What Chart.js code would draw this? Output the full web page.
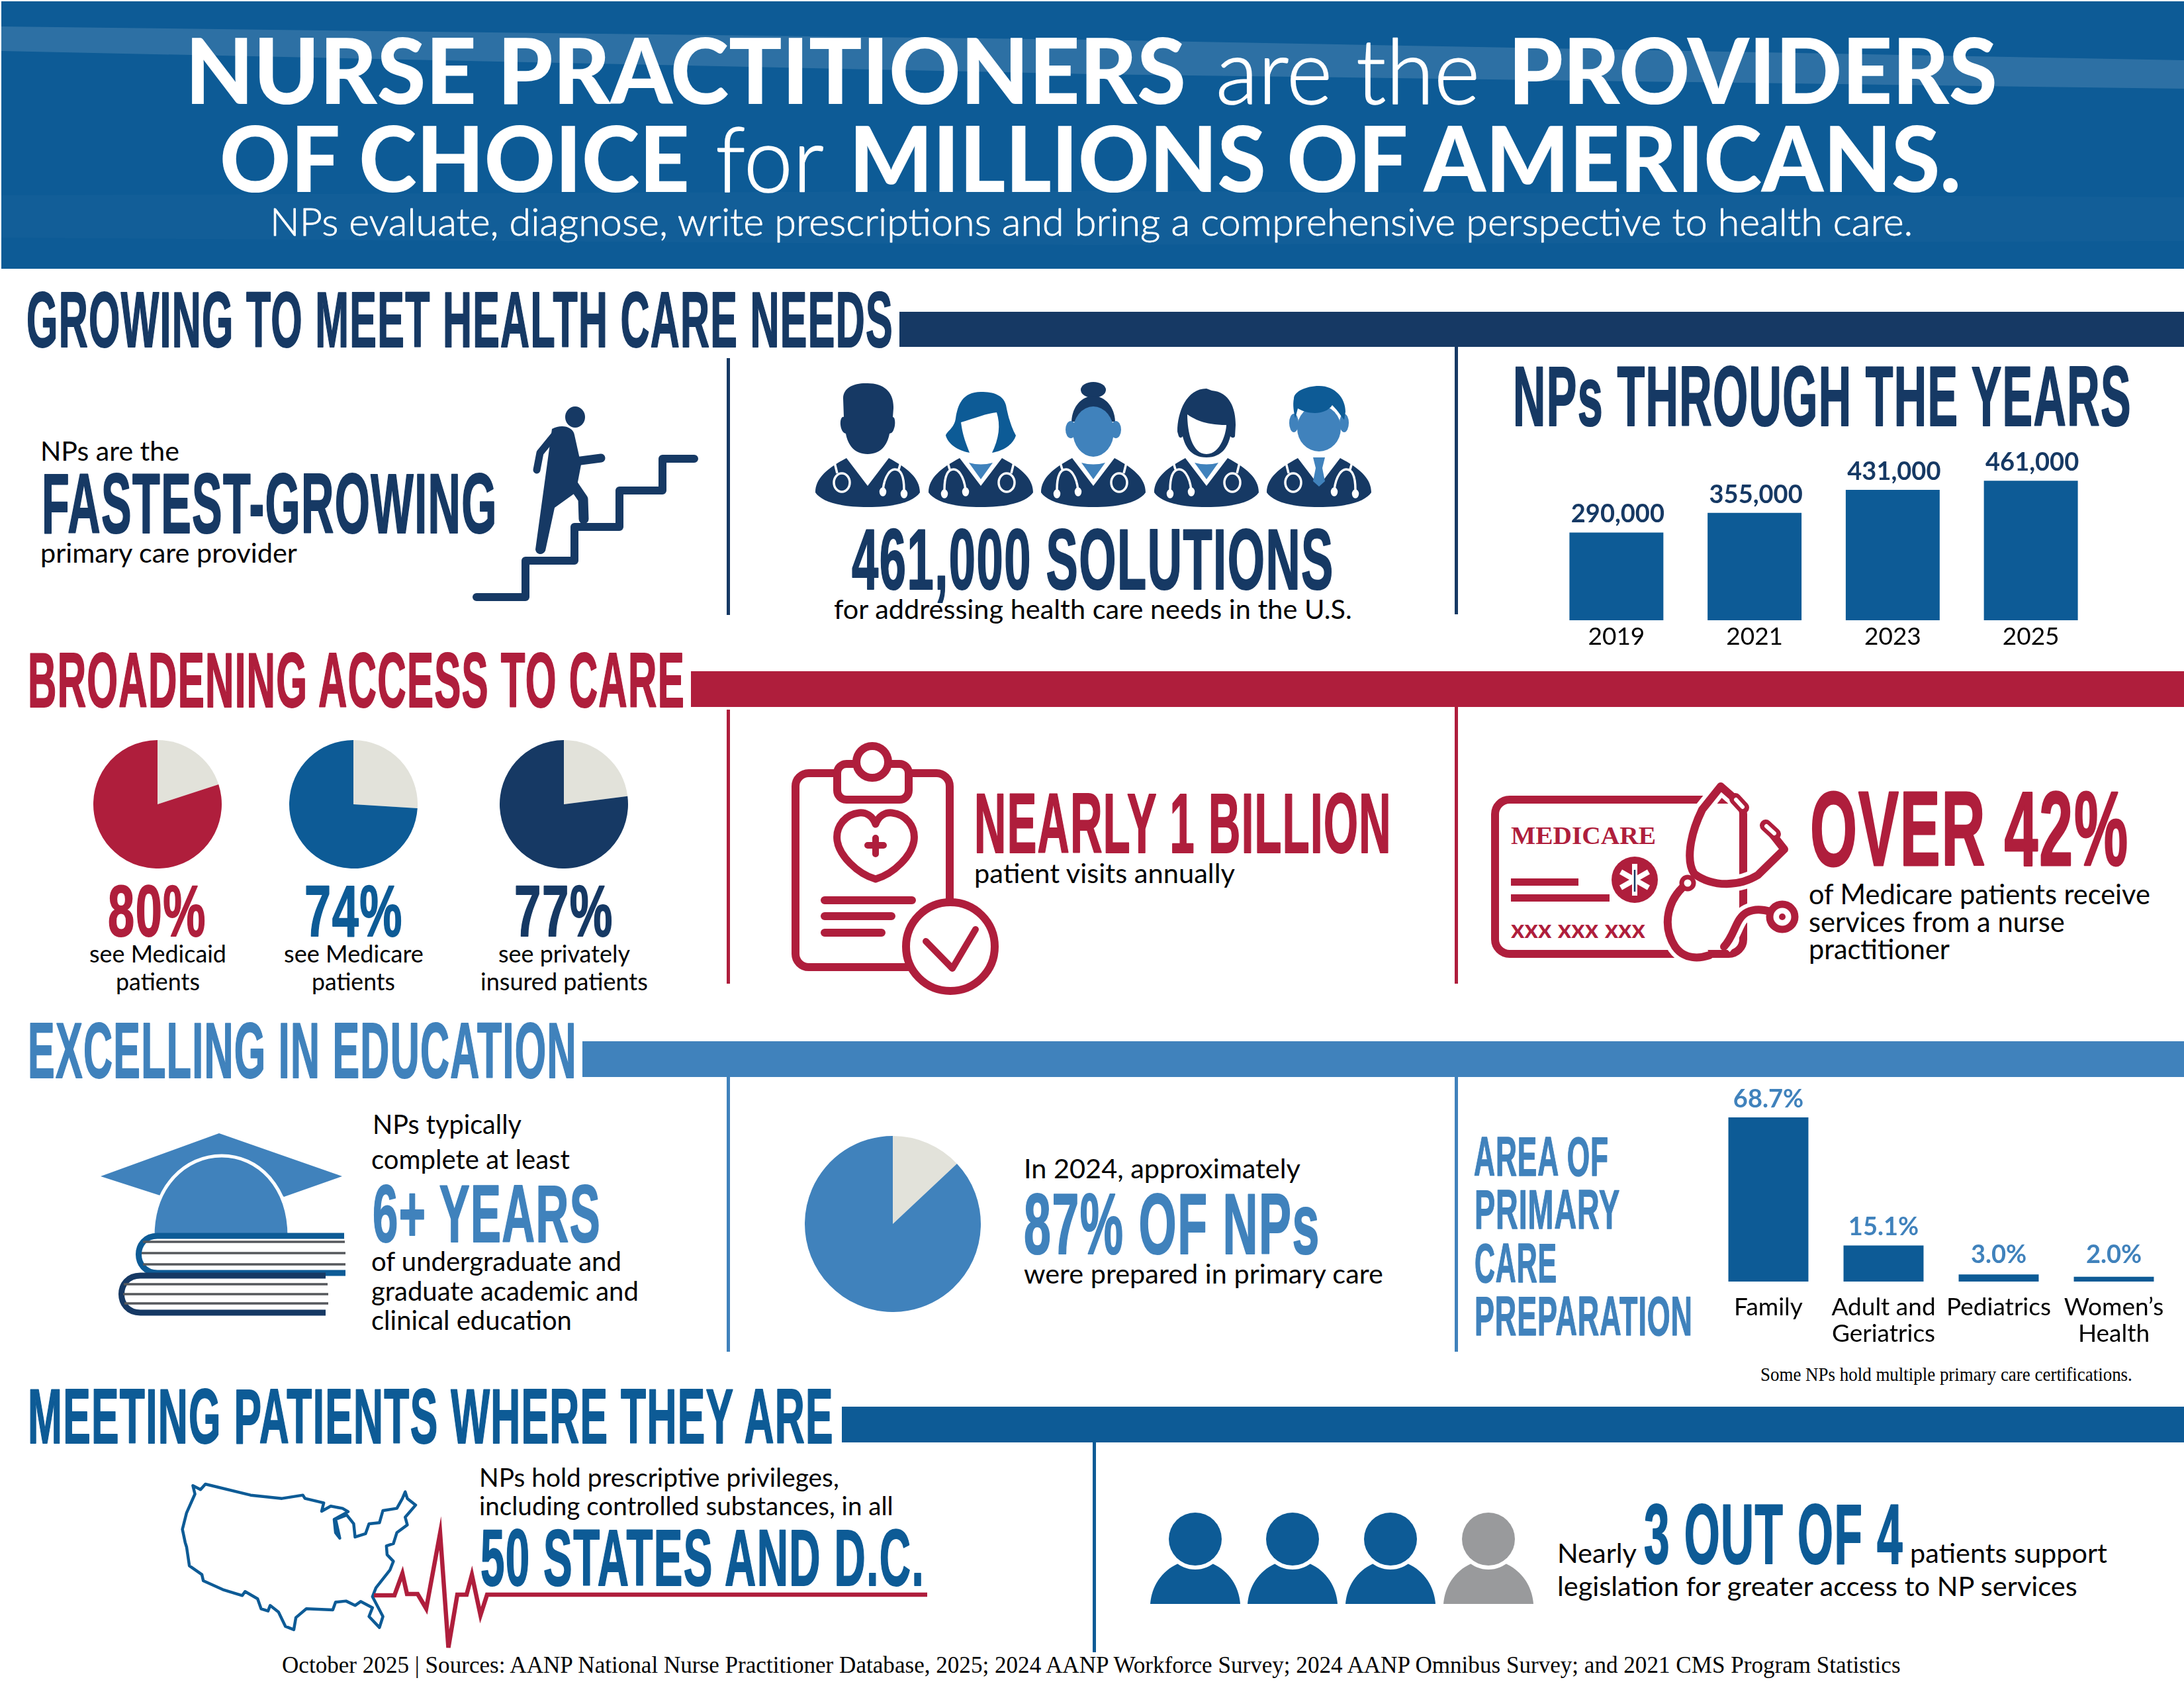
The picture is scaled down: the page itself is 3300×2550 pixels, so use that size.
<!DOCTYPE html>
<html><head><meta charset="utf-8">
<script src="https://cdn.jsdelivr.net/npm/chart.js@4"></script>
<style>
html,body{margin:0;padding:0;background:#fff;width:3300px;height:2550px;overflow:hidden}
#page{position:absolute;left:0;top:2px;width:3300px;height:2548px;overflow:hidden}
svg{position:absolute;left:0;top:0}
.ch{position:absolute}
</style></head><body><div id="page"><svg id="art" width="3300" height="2550" viewBox="0 0 3300 2550"></svg></div>
<script>
const yearLabels=['2019','2021','2023','2025'];
const npCounts=[290000,355000,431000,461000];
const specialtyLabels=[['Family'],['Adult and','Geriatrics'],['Pediatrics'],['Women’s','Health']];
const specialtyValues=[68.7,15.1,3.0,2.0];
const medicaidShare=[20,80];
const medicareShare=[26,74];
const privateShare=[23,77];
const primaryCareShare=[13,87];

const RED='#AF1E3C',BLUE='#0D5B96',NAVY='#163964',STEEL='#4082BC',PALE='#E2E2DA',GREY='#999A9C';
const BODY='Lato, "Noto Sans", sans-serif',NARROW='"Liberation Sans Narrow", "Liberation Sans", sans-serif',SERIF='"Liberation Serif", serif';

Chart.defaults.animation=false;
Chart.defaults.responsive=false;
Chart.defaults.devicePixelRatio=1;
Chart.defaults.plugins.legend.display=false;
Chart.defaults.plugins.tooltip.enabled=false;

/* ---------- text helpers: each string is fitted to its measured span ---------- */
let out='';
const esc=s=>s.replace(/&/g,'&amp;').replace(/</g,'&lt;');
function T(s,x0,x1,y,size,opt={}){
  const {fam=BODY,w=400,fill='#000',thick=0,ls=0}=opt;
  out+=`<text class="fit" data-x0="${x0}" data-x1="${x1}" data-y="${y}" font-family='${fam}' font-size="${size}" font-weight="${w}" fill="${fill}"`+(ls?` letter-spacing="${ls}"`:'')+(thick?` stroke="${fill}" stroke-width="${thick}" stroke-linejoin="round"`:'')+`>${esc(s)}</text>`;
}
function H(s,x0,x1,y,cap,fill){T(s,x0,x1,y,(cap/0.69).toFixed(1),{fam:NARROW,w:700,fill,thick:Math.max(1.5,cap/40),ls:(cap*0.03).toFixed(1)});}
const B=(s,x0,x1,y,size=41)=>T(s,x0,x1,y,size);
const R=(x,y,w,h,f)=>{out+=`<rect x="${x}" y="${y}" width="${w}" height="${h}" fill="${f}"/>`;};

/* ---------- banner ---------- */
R(2,0,3298,404,BLUE);
out+=`<path d="M2,38L1650,58L3300,89V132L1650,110L2,75Z" fill="#fff" opacity=".135"/>`;
out+=`<path d="M2,293L1650,286L3300,296V362L1650,368L2,357Z" fill="#fff" opacity=".025"/>`;
const W={fill:'#fff'};
T('NURSE PRACTITIONERS',280,1792,155,137,{w:900,...W});
T('are the',1837,2236,155,137,{w:300,thick:1.5,...W});
T('PROVIDERS',2279,3018,155,137,{w:900,...W});
T('OF CHOICE',332,1042,288,137,{w:900,...W});
T('for',1081,1245,288,137,{w:300,thick:1.5,...W});
T('MILLIONS OF AMERICANS.',1283,2963,288,137,{w:900,...W});
T('NPs evaluate, diagnose, write prescriptions and bring a comprehensive perspective to health care.',408,2891,354,57,{w:300,thick:.8,...W});

/* ---------- section rules ---------- */
H('GROWING TO MEET HEALTH CARE NEEDS',40,1350,522,82,NAVY);R(1359,469,1941,53,NAVY);
H('BROADENING ACCESS TO CARE',42,1035,1066,81,RED);R(1044,1012,2256,54,RED);
H('EXCELLING IN EDUCATION',42,872,1626,82,STEEL);R(880,1571,2420,54,STEEL);
H('MEETING PATIENTS WHERE THEY ARE',42,1260,2178,80,BLUE);R(1272,2123,2028,54,BLUE);
R(1098,539,5,388,NAVY);R(2198,522,5,404,NAVY);
R(1098,1070,5,414,RED);R(2198,1066,5,418,RED);
R(1098,1625,5,415,STEEL);R(2198,1625,5,415,STEEL);
R(1651,2177,5,317,BLUE);

/* ---------- section 1 ---------- */
B('NPs are the',61,271,694,40);
H('FASTEST-GROWING',63,752,803,88,NAVY);
B('primary care provider',61,449,848,40);
out+=`<g fill="none" stroke="${NAVY}" stroke-linecap="round" stroke-linejoin="round">
<path stroke-width="12" d="M720,900H794V845H868V794H936V739H1001V691H1049"/>
<path stroke-width="11" d="M838,655L816,682L811,708"/>
<path stroke-width="13" d="M870,695L908,690"/>
<path stroke-width="15" d="M866,730L881,752L882,782"/></g>
<ellipse cx="869" cy="628" rx="15" ry="16" fill="${NAVY}"/>
<path fill="${NAVY}" d="M834,646C848,638 866,642 868,655L878,700L870,742L838,765L824,830C820,838 810,836 809,828L828,690Z"/>`;
function doctor(cx,flip,inner,head){
  let s=`<g transform="translate(${cx},0)"><path fill="${NAVY}" d="M-32,690C-60,705 -79,720 -79,742C-70,755 -45,764 0,764C45,764 70,755 79,742C79,720 60,705 32,690L0,732Z"/>${inner}`;
  s+=`<g transform="scale(${flip},1)" fill="none" stroke="#fff" stroke-width="3.5"><path d="M-50,697L-46,713"/><ellipse cx="-39" cy="727" rx="12" ry="14"/><path d="M50,697L47,707M23,738C26,715 35,707 41,707C52,707 55,720 55,738"/><ellipse cx="23" cy="741" rx="3.5" ry="5" fill="#fff"/><ellipse cx="55" cy="744" rx="3.5" ry="5" fill="#fff"/></g>`;
  return s+head+'</g>';
}
const shirt=`<path fill="${STEEL}" d="M-18,697Q0,702 18,697L0,722Z"/>`;
const tie=`<path fill="${STEEL}" d="M-9,689H9L5,705L9,725L0,733L-9,725L-5,705Z"/>`;
out+=doctor(1311,1,'',`<path fill="${NAVY}" d="M-37,600C-37,582 -18,576 0,577C24,577 40,590 39,615L38,628C42,628 42,640 40,645C38,652 36,652 33,653C30,670 20,684 0,684C-20,684 -30,670 -33,653C-37,652 -40,648 -41,640C-42,630 -38,627 -36,628Z"/>`);
out+=doctor(1482,-1,shirt,`<path fill="${BLUE}" d="M0,590C-28,590 -35,610 -38,630C-40,645 -52,650 -53,656C-48,672 -30,680 -16,682L16,682C30,680 48,672 53,656C44,640 40,620 38,610C34,595 20,590 0,590Z"/><path fill="#fff" d="M-30,636C-10,630 10,622 24,621C30,640 28,660 16,684L-16,684C-26,660 -28,650 -30,636Z"/>`);
out+=doctor(1652,-1,shirt,`<ellipse cy="587" rx="19" ry="12" fill="${NAVY}"/><path fill="${NAVY}" d="M-33,635C-32,612 -18,597 0,596C18,597 32,612 33,635Z"/><g fill="${STEEL}"><ellipse cx="-34" cy="647" rx="8" ry="13"/><ellipse cx="34" cy="647" rx="8" ry="13"/><ellipse cy="650" rx="31" ry="38"/></g>`);
out+=doctor(1823,-1,shirt,`<path fill="${NAVY}" d="M0,585C-30,585 -44,620 -44,650L-42,657C-40,660 -38,660 -36,657C-33,670 -25,689 0,689C25,689 33,670 36,657C38,660 42,660 43,657L44,640C44,615 35,590 8,588Z"/><path fill="#fff" d="M-29,624C-20,630 -5,640 30,640C30,650 22,684 0,684C-22,684 -29,650 -29,624Z"/>`);
out+=doctor(1993,1,tie,`<g fill="${STEEL}"><ellipse cx="-38" cy="637" rx="7" ry="14"/><ellipse cx="38" cy="637" rx="7" ry="14"/><ellipse cy="645" rx="33" ry="35"/></g><path fill="${BLUE}" d="M-38,600C-38,590 -20,581 0,581C25,581 40,600 40,620L38,632C34,628 30,620 20,610C10,625 -15,625 -32,615L-36,630C-38,620 -40,610 -38,600Z"/>`);
H('461,000 SOLUTIONS',1287,2016,888,89,NAVY);
B('for addressing health care needs in the U.S.',1260,2043,933);
H('NPs THROUGH THE YEARS',2286,3221,641,88,NAVY);

/* ---------- section 2 ---------- */
H('80%',163,312,1412,75,RED);H('74%',460,609,1412,75,BLUE);H('77%',777,927,1412,75,NAVY);
B('see Medicaid',135,342,1452,37);B('patients',175,302,1494,37);
B('see Medicare',429,640,1452,37);B('patients',471,597,1494,37);
B('see privately',753,952,1452,37);B('insured patients',726,979,1494,37);
out+=`<g fill="none" stroke="${RED}" stroke-linecap="round"><rect x="1202" y="1166" width="233" height="293" rx="20" stroke-width="12" fill="#fff"/>
<rect x="1265" y="1152" width="108" height="54" rx="14" stroke-width="12" fill="#fff"/><circle cx="1318" cy="1149" r="24" stroke-width="12" fill="#fff"/>
<path stroke-width="11" stroke-linejoin="round" d="M1323,1243C1318,1230 1308,1225 1298,1226C1278,1228 1262,1246 1265,1268C1268,1290 1295,1318 1323,1326C1351,1318 1378,1290 1381,1268C1384,1246 1368,1228 1348,1226C1338,1225 1328,1230 1323,1243Z"/>
<path stroke-width="10" d="M1323,1264V1288M1311,1275H1335"/><path stroke-width="12" d="M1246,1358H1378M1246,1382H1347M1246,1407H1332"/>
<circle cx="1436" cy="1428" r="67" stroke-width="12" fill="#fff"/><path stroke-width="10" stroke-linejoin="round" d="M1399,1420L1439,1461L1474,1402"/></g>`;
H('NEARLY 1 BILLION',1472,2103,1286,88,RED);
B('patient visits annually',1472,1866,1332);
out+=`<rect x="2259" y="1206" width="375" height="233" rx="22" fill="none" stroke="${RED}" stroke-width="12"/>`;
T('MEDICARE',2283,2502,1273,38,{fam:SERIF,w:700,fill:RED});
R(2283,1325,102,11,RED);R(2283,1349,149,11,RED);
out+=`<circle cx="2470" cy="1327" r="35" fill="${RED}"/><g stroke="#fff" stroke-width="8"><path d="M2470,1303V1351M2449,1315L2491,1339M2449,1339L2491,1315"/></g><path d="M2470,1312V1345" stroke="${NAVY}" stroke-width="2.5"/>`;
T('xxx xxx xxx',2283,2486,1415,38,{w:700,fill:RED});
const steth=`M2600,1186L2572,1221C2552,1262 2548,1300 2560,1318C2590,1340 2630,1336 2656,1320L2696,1281L2674,1253M2600,1186L2624,1207M2550,1332C2520,1355 2510,1395 2531,1428C2545,1448 2568,1446 2583,1441M2605,1428C2622,1410 2622,1385 2640,1376C2652,1370 2665,1372 2675,1375`;
out+=`<path d="${steth}" fill="none" stroke="#fff" stroke-width="24"/><path d="${steth}" fill="none" stroke="${RED}" stroke-width="12" stroke-linecap="round" stroke-linejoin="round"/><path d="M2622,1205L2634,1218M2668,1245L2682,1258" stroke="${RED}" stroke-width="18" stroke-linecap="round"/><path d="M2623,1206L2633,1217M2669,1246L2681,1257" stroke="#fff" stroke-width="6" stroke-linecap="round"/><circle cx="2693" cy="1383" r="19" fill="#fff" stroke="${RED}" stroke-width="11"/><circle cx="2693" cy="1383" r="5" fill="${RED}"/><circle cx="2550" cy="1332" r="9" fill="#fff" stroke="${RED}" stroke-width="7"/>`;
H('OVER 42%',2735,3217,1305,110,RED);
B('of Medicare patients receive',2733,3249,1364,42);
B('services from a nurse',2733,3120,1406,42);
B('practitioner',2733,2946,1447,42);

/* ---------- section 3 ---------- */
out+=`<path fill="${STEEL}" d="M152,1775L331,1710L517,1775L429,1806L400,1780H270L242,1804Z"/>
<path fill="${STEEL}" stroke="#fff" stroke-width="5" d="M231,1866C231,1790 280,1744 335,1744C390,1744 437,1790 437,1866Z"/>
<g fill="none"><path stroke="${BLUE}" stroke-width="9" d="M520,1865H238C200,1865 200,1921 238,1921H522"/><path stroke="${NAVY}" stroke-width="9" d="M492,1925H212C174,1925 174,1981 212,1981H492"/>
<path stroke="#55585c" stroke-width="3.5" d="M216,1874H521M214,1891H522M216,1908H522M187,1938H495M186,1953H496M188,1967H496"/></g>`;
B('NPs typically',563,788,1711);B('complete at least',561,861,1764);
H('6+ YEARS',563,908,1874,85,STEEL);
B('of undergraduate and',561,939,1918);B('graduate academic and',561,965,1963);B('clinical education',561,864,2007);
B('In 2024, approximately',1547,1965,1778);
H('87% OF NPs',1547,1995,1892,89,STEEL);
B('were prepared in primary care',1547,2090,1937);
H('AREA OF',2227,2431,1774,58,STEEL);H('PRIMARY',2228,2448,1854,58,STEEL);H('CARE',2228,2353,1935,58,STEEL);H('PREPARATION',2228,2558,2015,58,STEEL);
T('Some NPs hold multiple primary care certifications.',2660,3222,2084,29,{fam:SERIF});

/* ---------- section 4 ---------- */
const usa='277,487 280,525 268,610 262,685 266,745 268,765 272,850 290,890 292,918 320,958 348,985 352,967 370,1000 375,1045 385,1055 388,1030 400,1060 410,1125 422,1140 425,1085 440,1045 478,1050 482,1015 497,1010 510,1030 518,1012 535,1040 530,1080 545,1130 550,1080 535,990 540,950 560,870 565,830 556,800 555,760 565,750 570,700 585,665 582,630 597,575 585,545 582,515 578,545 570,590 550,600 545,655 530,660 525,705 510,720 508,660 498,620 482,640 488,725 482,700 480,640 500,605 492,590 475,580 462,603 465,565 445,550 438,545 435,530 405,545 360,530 295,480 288,505';
out+=`<g transform="translate(0,2080) scale(1.052,.3333)"><polygon points="${usa}" fill="none" stroke="${BLUE}" stroke-width="4.5" stroke-linejoin="round" vector-effect="non-scaling-stroke"/></g>`;
out+=`<polyline points="565,2408 596,2408 608,2375 615,2406 631,2406 644,2428 665,2314 677.5,2487 691,2407 705,2407 713,2377 726,2438 736,2407 1401,2407" fill="none" stroke="${RED}" stroke-width="6.5" stroke-linejoin="miter" stroke-miterlimit="8"/>`;
T('NPs hold prescriptive privileges,',724,1268,2244,38);
T('including controlled substances, in all',724,1350,2287,38);
H('50 STATES AND D.C.',726,1397,2393,83,BLUE);
[[1806,BLUE],[1953,BLUE],[2101,BLUE],[2249,GREY]].forEach(([x,c])=>{
  out+=`<path fill="${c}" d="M${x-68},2421C${x-66},2395 ${x-52},2372 ${x-26},2360H${x+26}C${x+52},2372 ${x+66},2395 ${x+68},2421Z"/><circle cx="${x}" cy="2323" r="46" fill="#fff"/><circle cx="${x}" cy="2323" r="40" fill="${c}"/>`;
});
B('Nearly',2353,2473,2359);
H('3 OUT OF 4',2484,2876,2360,88,BLUE);
B('patients support',2886,3184,2359);
B('legislation for greater access to NP services',2353,3139,2409);
T('October 2025 | Sources: AANP National Nurse Practitioner Database, 2025; 2024 AANP Workforce Survey; 2024 AANP Omnibus Survey; and 2021 CMS Program Statistics',426,2872,2525,35,{fam:SERIF});
document.getElementById('art').innerHTML=out;
document.querySelectorAll('text.fit').forEach(t=>{
  const a=+t.dataset.x0,b=+t.dataset.x1,y=+t.dataset.y,n=t.getComputedTextLength();
  t.setAttribute('transform',`translate(${a},${y}) scale(${(b-a)/n},1)`);
});

/* ---------- charts ---------- */
function addCanvas(x,y,w,h){
  const c=document.createElement('canvas');c.className='ch';c.width=w;c.height=h;
  c.style.left=x+'px';c.style.top=y+'px';c.style.width=w+'px';c.style.height=h+'px';
  document.getElementById('page').appendChild(c);return c;
}
const valueLabels=(fmt,color,size,dx,floorY)=>({id:'valueLabels',afterDatasetsDraw(ch){
  const ctx=ch.ctx;ctx.save();ctx.font=`700 ${size}px Lato`;ctx.fillStyle=color;ctx.textAlign='center';ctx.textBaseline='alphabetic';
  ch.getDatasetMeta(0).data.forEach((el,i)=>ctx.fillText(fmt(ch.data.datasets[0].data[i]),el.x+dx,Math.min(el.y-15,floorY)));ctx.restore();}});
function barChart(x,y,w,h,axisH,ymax,labels,values,barPct,plugin,tickPad){
  return new Chart(addCanvas(x,y,w,h),{type:'bar',
    data:{labels,datasets:[{data:values,backgroundColor:BLUE,barPercentage:barPct,categoryPercentage:1,borderWidth:0}]},
    options:{layout:{padding:0},
      scales:{
        y:{display:false,min:0,max:ymax},
        x:{offset:true,afterFit(s){s.height=axisH;s.paddingLeft=0;s.paddingRight=0;},grid:{display:false,drawTicks:false},border:{display:false},
           ticks:{color:'#000',padding:tickPad,autoSkip:false,maxRotation:0,font:{family:'Lato',size:37,lineHeight:1.08}}}
      }},
    plugins:[plugin]});
}
barChart(2338,660,835,340,65,601750,yearLabels,npCounts,0.68,valueLabels(v=>v.toLocaleString('en-US'),NAVY,38,2,9999),5);
barChart(2585,1640,696,400,106,81.44,specialtyLabels,specialtyValues,0.695,valueLabels(v=>v.toFixed(1)+'%',STEEL,38,0,266),19);
function pie(cx,cy,r,vals,color){
  return new Chart(addCanvas(cx-r,cy-r,2*r,2*r),{type:'pie',
    data:{labels:['Other','Share'],datasets:[{data:vals,backgroundColor:[PALE,color],borderWidth:0}]},
    options:{layout:{padding:0}}});
}
pie(238,1213,97,medicaidShare,RED);
pie(534,1213,97,medicareShare,BLUE);
pie(852,1213,97,privateShare,NAVY);
pie(1349,1847,133,primaryCareShare,STEEL);
</script></body></html>
